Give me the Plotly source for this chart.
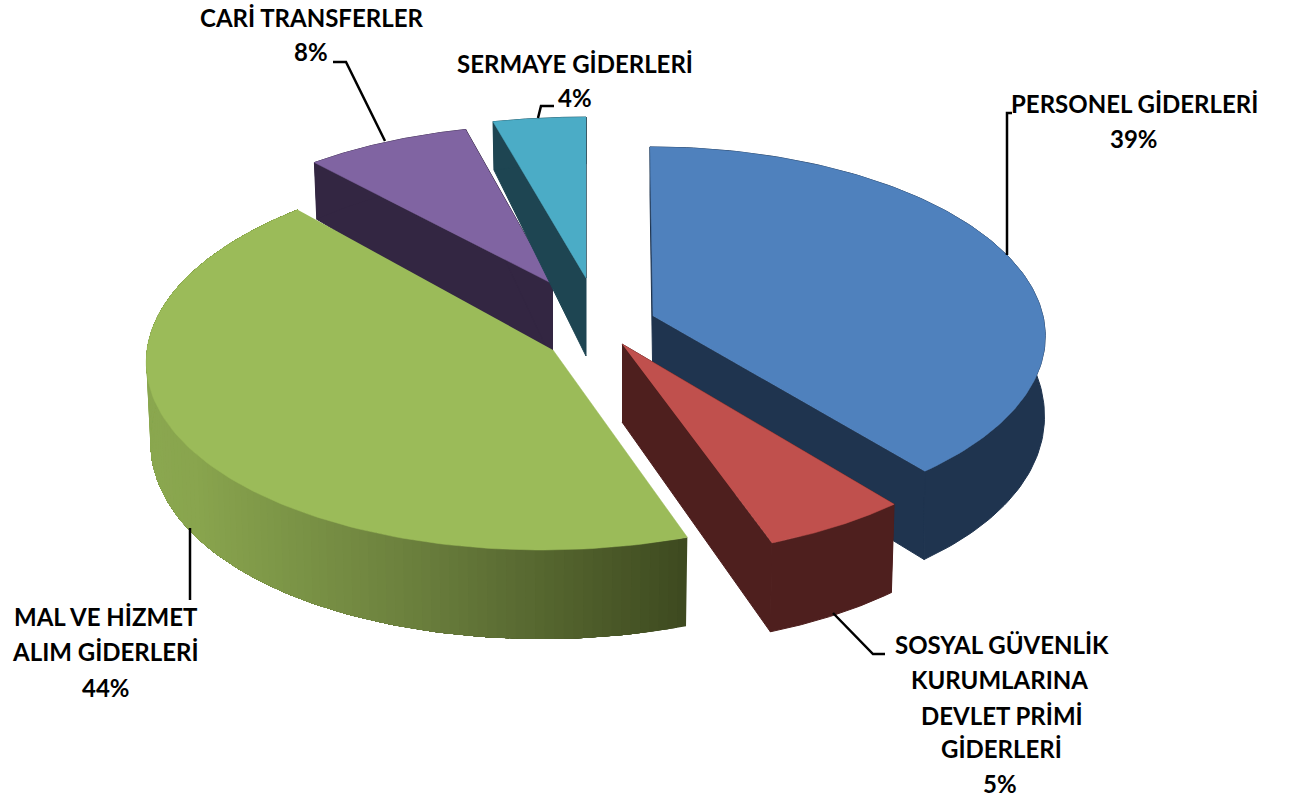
import numpy as np
import plotly.graph_objects as go

# --- data ---
categories = ["PERSONEL GİDERLERİ", "SOSYAL GÜVENLİK KURUMLARINA DEVLET PRİMİ GİDERLERİ",
              "MAL VE HİZMET ALIM GİDERLERİ", "CARİ TRANSFERLER", "SERMAYE GİDERLERİ"]
values = [39.0, 5.4, 44.0, 7.6, 4.0]

# --- styling of the slices ---
top_colors = ["#4F81BD", "#C0504D", "#9BBB59", "#8064A2", "#4BACC6"]
side_colors = ["#1F344F", "#4E1F1E", None, "#332642", "#1E4552"]
apex_x = [653, 622, 553, 553, 586]
apex_y = [316, 344, 350, 284, 278]
radius_x = [390, 394, 406, 385, 410]
radius_y = [186, 192, 193, 175, 177]
persp = [0.10, 0.10, 0.035, 0.10, 0.10]
shear = [3, 0, -11, 0, 0]
bottom_scale = [0.998, 0.99, 0.99, 0.99, 0.99]
draw_order = [3, 4, 0, 2, 1]
grad_x = [147, 200, 430, 686]
grad_r = [139, 137, 105, 62]
grad_g = [168, 165, 125, 74]
grad_b = [80, 78, 60, 32]

# --- label text lines: (text, centre x, centre y) ---
label_lines = [
    ("PERSONEL GİDERLERİ", 1134, 103), ("39%", 1134, 138),
    ("SOSYAL GÜVENLİK", 1002, 644), ("KURUMLARINA", 999, 679), ("DEVLET PRİMİ", 1002, 715),
    ("GİDERLERİ", 1001, 748), ("5%", 1000, 783),
    ("MAL VE HİZMET", 106, 616), ("ALIM GİDERLERİ", 105, 651), ("44%", 106, 687),
    ("CARİ TRANSFERLER", 311, 17), ("8%", 311, 51),
    ("SERMAYE GİDERLERİ", 575, 63), ("4%", 575, 97),
]
leaders = [
    ([1007, 1007, 1012], [255, 113, 113]),
    ([833, 873, 885], [613, 654, 654]),
    ([190, 190], [528, 600]),
    ([385, 346, 333], [141, 62, 62]),
    ([538, 541, 554], [118, 106, 106]),
]


def project(i, theta, r=1.0, bottom=False):
    X = r * np.sin(theta)
    Y = -r * np.cos(theta)
    w = 1.0 / (1.0 - persp[i] * Y)
    x = radius_x[i] * X * w + shear[i] * Y
    y = radius_y[i] * Y * w
    if bottom:
        x = x * bottom_scale[i]
        y = y + 78 + 21 * Y - 10 * Y * Y
    return apex_x[i] + x, apex_y[i] + y


def poly(xs, ys, color, line=0.0):
    return go.Scatter(x=list(xs), y=list(ys), mode="lines", fill="toself", fillcolor=color,
                      line=dict(color=color, width=line), hoverinfo="skip", showlegend=False)


edges = np.radians(np.concatenate([[0], np.cumsum(values)]) * 360.0 / sum(values))
fig = go.Figure()

for i in draw_order:
    th = np.linspace(edges[i], edges[i + 1], 121)
    tx, ty = project(i, th)
    bx, by = project(i, th, bottom=True)
    ax0, ay0 = project(i, 0.0, 0.0)
    axb, ayb = project(i, 0.0, 0.0, bottom=True)
    if side_colors[i]:
        # radial walls and rim in one flat colour
        for e in (edges[i], edges[i + 1]):
            ex, ey = project(i, e)
            fx, fy = project(i, e, bottom=True)
            fig.add_trace(poly([ax0, ex, fx, axb], [ay0, ey, fy, ayb], side_colors[i], 1))
        fig.add_trace(poly(np.concatenate([tx, bx[::-1]]), np.concatenate([ty, by[::-1]]),
                           side_colors[i], 1))
    else:
        # rim with a horizontal gradient: each step paints the rest of the rim, so no seams show
        for k in range(0, len(th) - 1):
            xm = 0.5 * (bx[k] + bx[k + 1])
            c = [np.interp(xm, grad_x, g) for g in (grad_r, grad_g, grad_b)]
            col = "rgb(%d,%d,%d)" % tuple(c)
            fig.add_trace(poly(np.concatenate([tx[k:], bx[k:][::-1]]),
                               np.concatenate([ty[k:], by[k:][::-1]]), col, 0))
    fig.add_trace(poly(np.concatenate([[ax0], tx]), np.concatenate([[ay0], ty]), top_colors[i], 0.5))

for lx, ly in leaders:
    fig.add_trace(go.Scatter(x=lx, y=ly, mode="lines", line=dict(color="#000000", width=2.5),
                             hoverinfo="skip", showlegend=False))

for text, x, y in label_lines:
    fig.add_annotation(x=x, y=y, xref="x", yref="y", text=text, showarrow=False,
                       xanchor="center", yanchor="middle",
                       font=dict(family="Lato", size=24, color="#000000", weight="bold"))

fig.update_xaxes(range=[0, 1290], visible=False, fixedrange=True)
fig.update_yaxes(range=[801, 0], visible=False, fixedrange=True)
fig.update_layout(width=1290, height=801, margin=dict(l=0, r=0, t=0, b=0),
                  paper_bgcolor="#FFFFFF", plot_bgcolor="#FFFFFF", showlegend=False)
fig.write_html("out.html", config={"displayModeBar": False},
               post_script="document.body.style.margin='0';document.body.style.overflow='hidden';")
